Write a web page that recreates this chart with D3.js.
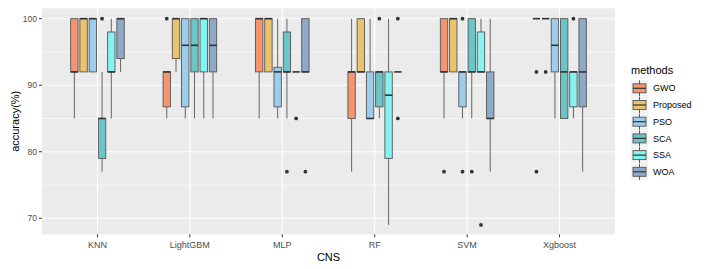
<!DOCTYPE html>
<html><head><meta charset="utf-8">
<script src="https://cdn.jsdelivr.net/npm/d3@7"></script>
<style>body{margin:0;background:#fff}svg{display:block}text{font-family:"Liberation Sans",Arial,sans-serif}</style>
</head><body><svg id="c" width="704" height="269"></svg>
<script>
// categories and methods
const categories = ["KNN","LightGBM","MLP","RF","SVM","Xgboost"];
const methods = ["GWO","Proposed","PSO","SCA","SSA","WOA"];
const yTicks = [70,80,90,100];
// box stats per category: [lower whisker, q1, median, q3, upper whisker]
const GWO = [[85,92,92,100,100],[85,86.75,92,92,92],[85,92,100,100,100],[77,85,92,92,100],[85,92,92,100,100],[100,100,100,100,100]];
const Proposed = [[92,92,100,100,100],[92,94,100,100,100],[92,92,100,100,100],[92,92,92,100,100],[92,92,100,100,100],[100,100,100,100,100]];
const PSO = [[92,92,100,100,100],[85,86.75,96,100,100],[85,86.75,92,92.7,100],[85,85,85,92,100],[85,86.75,92,92,92],[85,92,96,100,100]];
const SCA = [[77,79,85,85,92],[85,92,96,100,100],[85,92,92,98,100],[85,86.75,92,92,92],[85,92,92,100,100],[85,85,92,100,100]];
const SSA = [[85,92,92,98,100],[85,92,100,100,100],[92,92,92,92,92],[69,79,88.5,92,100],[92,92,92,98,100],[85,86.75,92,92,92]];
const WOA = [[92,94,100,100,100],[85,92,96,100,100],[92,92,92,100,100],[92,92,92,92,92],[77,85,85,92,100],[77,86.75,92,100,100]];
// outliers per category
const GWO_out = [[],[100],[],[],[77],[92,77]];
const Proposed_out = [[],[],[],[],[],[92]];
const PSO_out = [[],[],[],[],[100,77],[]];
const SCA_out = [[100],[],[77],[100],[77],[]];
const SSA_out = [[],[],[85],[],[69],[100]];
const WOA_out = [[],[],[77],[100,85],[],[]];
const colors = ["#F4956F","#E8C46E","#9DCDEA","#6BC4C6","#84F3F1","#8DA9C6"];

const stats = {GWO,Proposed,PSO,SCA,SSA,WOA};
const outs = {GWO:GWO_out,Proposed:Proposed_out,PSO:PSO_out,SCA:SCA_out,SSA:SSA_out,WOA:WOA_out};

const svg = d3.select("#c");
const L=42,R=615,T=8.3,B=234.3;
const x = d3.scaleBand().domain(categories).range([L,R]).paddingInner(0).paddingOuter(0.1);
const xi = d3.scaleBand().domain(methods).range([-0.3*x.step(),0.3*x.step()]);
const y = d3.scaleLinear().domain([67.59,101.56]).range([B,T]);
const color = d3.scaleOrdinal().domain(methods).range(colors);

svg.append("rect").attr("x",L).attr("y",T).attr("width",R-L).attr("height",B-T).attr("fill","#EBEBEB");
// minor gridlines
[75,85,95].forEach(v=>svg.append("line").attr("x1",L).attr("x2",R).attr("y1",y(v)).attr("y2",y(v)).attr("stroke","#fff").attr("stroke-width",0.6));
yTicks.forEach(v=>svg.append("line").attr("x1",L).attr("x2",R).attr("y1",y(v)).attr("y2",y(v)).attr("stroke","#fff").attr("stroke-width",1.1));
categories.forEach(c=>{const cx=x(c)+x.bandwidth()/2;svg.append("line").attr("x1",cx).attr("x2",cx).attr("y1",T).attr("y2",B).attr("stroke","#fff").attr("stroke-width",1.1);});

const bw = xi.bandwidth()*0.8;
const g = svg.append("g");
categories.forEach((c,ci)=>{
  methods.forEach(m=>{
    const s = stats[m][ci];
    const cx = x(c)+x.bandwidth()/2 + xi(m)+xi.bandwidth()/2;
    g.append("line").attr("x1",cx).attr("x2",cx).attr("y1",y(s[3])).attr("y2",y(s[4])).attr("stroke","#666").attr("stroke-width",1);
    g.append("line").attr("x1",cx).attr("x2",cx).attr("y1",y(s[1])).attr("y2",y(s[0])).attr("stroke","#666").attr("stroke-width",1);
    g.append("rect").attr("x",cx-bw/2).attr("width",bw).attr("y",y(s[3])).attr("height",Math.max(0,y(s[1])-y(s[3])))
      .attr("fill",color(m)).attr("stroke","#555").attr("stroke-width",0.9);
    g.append("line").attr("x1",cx-bw/2).attr("x2",cx+bw/2).attr("y1",y(s[2])).attr("y2",y(s[2])).attr("stroke","#333").attr("stroke-width",1.6);
    outs[m][ci].forEach(o=>g.append("circle").attr("cx",cx).attr("cy",y(o)).attr("r",1.9).attr("fill","#333"));
  });
});

// axes
yTicks.forEach(v=>{
  svg.append("line").attr("x1",L-3).attr("x2",L).attr("y1",y(v)).attr("y2",y(v)).attr("stroke","#333");
  svg.append("text").attr("x",L-5).attr("y",y(v)).attr("dy","0.35em").attr("text-anchor","end").attr("font-size",8.5).attr("fill","#4D4D4D").text(v);
});
categories.forEach(c=>{
  const cx=x(c)+x.bandwidth()/2;
  svg.append("line").attr("x1",cx).attr("x2",cx).attr("y1",B).attr("y2",B+3).attr("stroke","#333");
  svg.append("text").attr("x",cx).attr("y",B+11).attr("dy","0.35em").attr("text-anchor","middle").attr("font-size",9).attr("fill","#4D4D4D").text(c);
});
svg.append("text").attr("x",(L+R)/2).attr("y",257).attr("dy","0.35em").attr("text-anchor","middle").attr("font-size",11).attr("fill","#000").text("CNS");
svg.append("text").attr("transform",`translate(15,${(T+B)/2}) rotate(-90)`).attr("dy","0.35em").attr("text-anchor","middle").attr("font-size",11).attr("fill","#000").text("accuracy(%)");

// legend
const lg = svg.append("g");
lg.append("text").attr("x",631).attr("y",70).attr("dy","0.35em").attr("font-size",11).attr("fill","#000").text("methods");
methods.forEach((m,i)=>{
  const cy = 88.3 + i*16.7;
  lg.append("rect").attr("x",631).attr("y",cy-8.3).attr("width",17).attr("height",16.7).attr("fill","#F2F2F2");
  lg.append("line").attr("x1",639.5).attr("x2",639.5).attr("y1",cy-8).attr("y2",cy+8).attr("stroke","#555");
  lg.append("rect").attr("x",633).attr("y",cy-4.5).attr("width",13).attr("height",9).attr("fill",color(m)).attr("stroke","#555").attr("stroke-width",0.9);
  lg.append("line").attr("x1",633).attr("x2",646).attr("y1",cy).attr("y2",cy).attr("stroke","#333").attr("stroke-width",1.2);
  lg.append("text").attr("x",653).attr("y",cy).attr("dy","0.35em").attr("font-size",9).attr("fill","#000").text(m);
});
</script></body></html>
